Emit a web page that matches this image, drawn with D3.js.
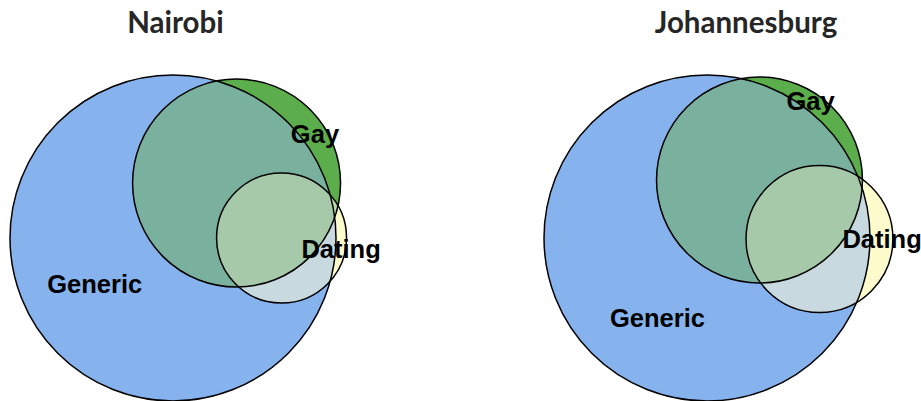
<!DOCTYPE html>
<html>
<head>
<meta charset="utf-8">
<script src="https://cdn.jsdelivr.net/npm/d3@7"></script>
<style>
html,body{margin:0;padding:0;background:#fff;}
svg{display:block;}
</style>
</head>
<body>
<svg id="chart" width="921" height="401"></svg>
<script>
// ---- data ----
const cities = ["Nairobi", "Johannesburg"];
const sets = ["Generic", "Gay", "Dating"];
// relative set sizes (area, Generic = 100)
const sizesNairobi = [100, 40.7, 15.9];
const sizesJohannesburg = [100, 39.9, 20.3];
// venn layout centres (units of Generic radius, relative to Generic centre)
const centersNairobi = [[0, 0], [0.39, -0.337], [0.666, 0]];
const centersJohannesburg = [[0, 0], [0.322, -0.356], [0.69, 0.006]];
// label anchors (same units)
const labelsNairobi = [[-0.48, 0.337], [0.871, -0.583], [1.031, 0.123]];
const labelsJohannesburg = [[-0.304, 0.546], [0.635, -0.785], [1.074, 0.061]];

const panels = [
  {city: cities[0], sizes: sizesNairobi, centers: centersNairobi, labels: labelsNairobi, cx: 173, titleX: 175.5},
  {city: cities[1], sizes: sizesJohannesburg, centers: centersJohannesburg, labels: labelsJohannesburg, cx: 707, titleX: 746}
];

const colors = {
  generic: "#86b3ed",
  gay: "#5cad4c",
  dating: "#fefccc",
  genericGay: "#7ab09e",
  genericDating: "#c9d9e0",
  gayDating: "#b9d8a6",
  all: "#a5c9a9"
};

const svg = d3.select("#chart");
const R = 163, CY = 238;
const rScale = d3.scaleSqrt().domain([0, 100]).range([0, R]);

panels.forEach((p, pi) => {
  const x = d3.scaleLinear().domain([-1, 1]).range([p.cx - R, p.cx + R]);
  const y = d3.scaleLinear().domain([-1, 1]).range([CY - R, CY + R]);
  const circ = sets.map((s, i) => ({
    name: s, cx: x(p.centers[i][0]), cy: y(p.centers[i][1]), r: rScale(p.sizes[i])
  }));
  const g = svg.append("g");
  const defs = g.append("defs");
  circ.forEach((c, i) => {
    defs.append("clipPath").attr("id", `clip-${pi}-${i}`)
      .append("circle").attr("cx", c.cx).attr("cy", c.cy).attr("r", c.r);
  });
  defs.append("clipPath").attr("id", `clip-${pi}-01`)
    .append("circle").attr("cx", circ[1].cx).attr("cy", circ[1].cy).attr("r", circ[1].r)
    .attr("clip-path", `url(#clip-${pi}-0)`);

  const dc = (sel, c, fill) => sel.append("circle").attr("cx", c.cx).attr("cy", c.cy).attr("r", c.r).attr("fill", fill);

  dc(g, circ[0], colors.generic);
  dc(g, circ[1], colors.gay);
  dc(g, circ[2], colors.dating);
  dc(g.append("g").attr("clip-path", `url(#clip-${pi}-0)`), circ[1], colors.genericGay);
  dc(g.append("g").attr("clip-path", `url(#clip-${pi}-0)`), circ[2], colors.genericDating);
  dc(g.append("g").attr("clip-path", `url(#clip-${pi}-1)`), circ[2], colors.gayDating);
  dc(g.append("g").attr("clip-path", `url(#clip-${pi}-01)`), circ[2], colors.all);

  g.selectAll("circle.outline").data(circ).join("circle")
    .attr("class", "outline")
    .attr("cx", d => d.cx).attr("cy", d => d.cy).attr("r", d => d.r)
    .attr("fill", "none").attr("stroke", "#000").attr("stroke-width", 1.5);

  g.selectAll("text.lbl").data(sets).join("text")
    .attr("class", "lbl")
    .attr("x", (d, i) => x(p.labels[i][0]))
    .attr("y", (d, i) => y(p.labels[i][1]))
    .attr("text-anchor", "middle")
    .style("font-family", "'Liberation Sans', Arial, sans-serif")
    .style("font-weight", "bold")
    .style("font-size", "25.5px")
    .attr("fill", "#000")
    .text(d => d);

  svg.append("text")
    .attr("x", p.titleX).attr("y", 33)
    .attr("text-anchor", "middle")
    .style("font-family", "Lato, 'Open Sans', sans-serif")
    .style("font-weight", "bold")
    .style("font-size", "29.5px")
    .attr("fill", "#262626")
    .text(p.city);
});
</script>
</body>
</html>
